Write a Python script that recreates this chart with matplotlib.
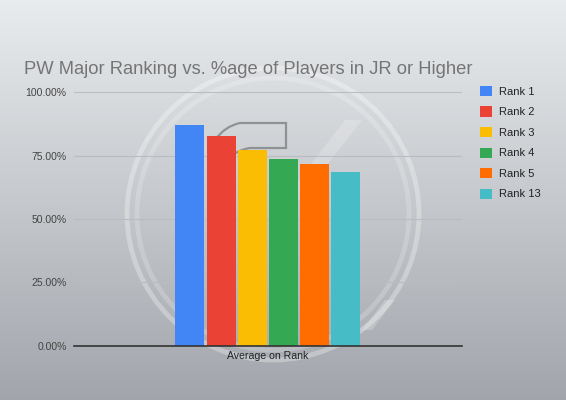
import numpy as np
import matplotlib
matplotlib.use('Agg')
import matplotlib.pyplot as plt
from matplotlib.patches import Circle, PathPatch
from matplotlib.path import Path

plt.rcParams['font.family'] = ['Liberation Sans', 'DejaVu Sans']

categories = ['Average on Rank']
series = ['Rank 1', 'Rank 2', 'Rank 3', 'Rank 4', 'Rank 5', 'Rank 13']
values = [87.1, 82.8, 77.2, 73.5, 71.6, 68.6]
colors = ['#4285F4', '#EA4335', '#FBBC04', '#34A853', '#FF6D01', '#46BDC6']
yticks = [0, 25, 50, 75, 100]

fig = plt.figure(figsize=(5.66, 4), dpi=100)

# background: grey gradient + faint logo watermark
bg = fig.add_axes([0, 0, 1, 1], zorder=0)
grad = np.linspace(0, 1, 256).reshape(-1, 1)
top = np.array([0.914, 0.925, 0.933])
bot = np.array([0.635, 0.647, 0.671])
img = top + (bot - top) * grad[:, :, None]
bg.imshow(img, extent=[0, 566, 400, 0], aspect='auto')
bg.set_xlim(0, 566)
bg.set_ylim(400, 0)
bg.axis('off')
for r, a in [(146, 0.3), (136, 0.2)]:
    bg.add_patch(Circle((273, 214), r, fill=False, ec='white', lw=3.5, alpha=a))
band = Path([(345, 120), (362, 120), (300, 200), (283, 200), (345, 120)])
bg.add_patch(PathPatch(band, fc='white', ec='none', alpha=0.2))
band2 = Path([(385, 300), (395, 300), (372, 330), (362, 330), (385, 300)])
bg.add_patch(PathPatch(band2, fc='white', ec='none', alpha=0.22))
hook = Path([(215, 140), (225, 126), (240, 123), (286, 123), (286, 148),
             (250, 148), (238, 150), (232, 156)],
            [Path.MOVETO, Path.CURVE3, Path.CURVE3, Path.LINETO, Path.LINETO,
             Path.LINETO, Path.CURVE3, Path.CURVE3])
bg.add_patch(PathPatch(hook, fc='none', ec='#8f9294', lw=1.6))

# main chart
ax = fig.add_axes([73.5 / 566, 1 - 345.7 / 400, (462 - 73.5) / 566, (345.7 - 92.3) / 400], zorder=1)
ax.patch.set_alpha(0)

x = np.arange(len(series)) - (len(series) - 1) / 2
for xi, v, c, s in zip(x, values, colors, series):
    ax.bar(xi, v, width=0.93, color=c, label=s, zorder=3)

ax.set_xlim(-6.24, 6.24)
ax.set_ylim(0, 100)
ax.set_yticks(yticks)
ax.set_yticklabels(['%.2f%%' % t for t in yticks])
ax.set_xticks([0])
ax.set_xticklabels(categories)
ax.tick_params(axis='y', length=0, pad=5, labelsize=7.5, labelcolor='#444444')
ax.tick_params(axis='x', length=0, pad=4, labelsize=7.6, labelcolor='#222222')
ax.grid(axis='y', color='#b9bcc0', lw=0.8, zorder=0)
for sp in ['top', 'right', 'left']:
    ax.spines[sp].set_visible(False)
ax.spines['bottom'].set_color('#333333')
ax.spines['bottom'].set_linewidth(1.2)
ax.spines['bottom'].set_zorder(4)

fig.text(24 / 566, 1 - 74.3 / 400, 'PW Major Ranking vs. %age of Players in JR or Higher',
         fontsize=13.2, color='#757575', va='baseline', ha='left', zorder=2)

ax.legend(loc='upper left', bbox_to_anchor=(480 / 566, 1 - 86 / 400),
          bbox_transform=fig.transFigure, frameon=False, fontsize=8,
          handlelength=1.05, handleheight=1.05, handletextpad=0.65,
          labelspacing=0.86, borderpad=0, borderaxespad=0, labelcolor='#222222')

fig.savefig('out.png', dpi=100)
